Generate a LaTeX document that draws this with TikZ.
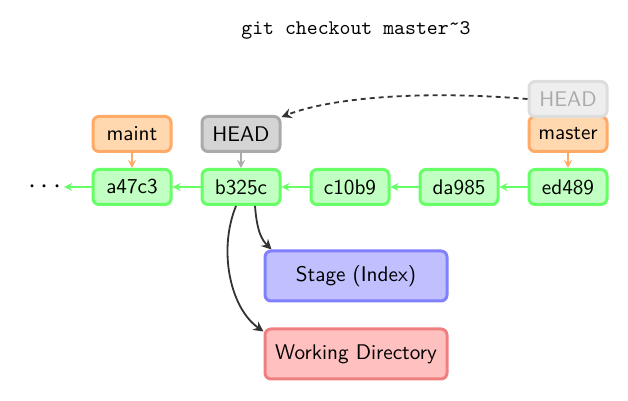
\documentclass[tikz,border=0pt]{standalone}
\usetikzlibrary{arrows.meta}
\definecolor{cgfill}{HTML}{C2FFC2}
\definecolor{cgdraw}{HTML}{66FF66}
\definecolor{cofill}{HTML}{FFD8B0}
\definecolor{codraw}{HTML}{FFAA66}
\definecolor{chfill}{HTML}{D4D4D4}
\definecolor{chdraw}{HTML}{AAAAAA}
\definecolor{cgh}{HTML}{EEEEEE}
\definecolor{cghd}{HTML}{DDDDDD}
\definecolor{cghtext}{HTML}{AAAAAA}
\definecolor{csfill}{HTML}{C0C0FF}
\definecolor{csdraw}{HTML}{8080FF}
\definecolor{cwfill}{HTML}{FFC0C0}
\definecolor{cwdraw}{HTML}{F08080}
\definecolor{cblk}{HTML}{333333}
\tikzset{
  box/.style={rounded corners=3pt, line width=1.5pt, minimum width=39pt, minimum height=17.5pt, inner sep=0pt, font=\sffamily\fontsize{10.6}{12}\selectfont},
  commit/.style={box, fill=cgfill, draw=cgdraw},
  branch/.style={box, fill=cofill, draw=codraw},
  headbox/.style={box, fill=chfill, draw=chdraw},
  ghost/.style={box, fill=cgh, draw=cghd, text=cghtext},
  area/.style={box, minimum width=91pt, minimum height=25pt},
  garrow/.style={draw=cgdraw, line width=0.8pt, -{Stealth[length=4pt,width=4pt]}},
  oarrow/.style={draw=codraw, line width=0.8pt, -{Stealth[length=4pt,width=4pt]}},
  harrow/.style={draw=chdraw, line width=0.8pt, -{Stealth[length=4pt,width=4pt]}},
  karrow/.style={draw=cblk, line width=0.9pt, -{Stealth[length=5pt,width=5pt]}},
}
\begin{document}
\begin{tikzpicture}[x=0.5pt,y=-0.5pt]
\useasboundingbox (0,0) rectangle (628,401);
\node[font=\ttfamily\fontsize{10.4}{12}\selectfont] (title) at (356,30) {git checkout master\raisebox{0.45ex}{\textasciitilde}3};
\node[commit] (a) at (132,187) {a47c3};
\node[commit] (b) at (241,187) {b325c};
\node[commit] (c) at (350,187) {c10b9};
\node[commit] (d) at (459,187) {da985};
\node[commit] (e) at (568,187) {ed489};
\node[inner sep=1pt, font=\fontsize{14}{14}\selectfont] (dots) at (45,187) {$\cdots$};
\node[branch] (maint) at (132,134) {maint};
\node[headbox] (head) at (241,134) {HEAD};
\node[branch] (master) at (568,134) {master};
\node[ghost] (oldhead) at (568,99) {HEAD};
\node[area, fill=csfill, draw=csdraw] (stage) at (356,276) {Stage (Index)};
\node[area, fill=cwfill, draw=cwdraw] (wd) at (356,354) {Working Directory};
\draw[garrow] (e) -- (d);
\draw[garrow] (d) -- (c);
\draw[garrow] (c) -- (b);
\draw[garrow] (b) -- (a);
\draw[garrow] (a) -- (dots);
\draw[oarrow] (maint) -- (a);
\draw[oarrow] (master) -- (e);
\draw[harrow] (head) -- (b);
\draw[cblk, line width=0.9pt, dash pattern=on 2.5pt off 2pt, -{Stealth[length=5pt,width=5pt]}]
  (oldhead.west) .. controls (420,90) and (330,98) .. ([yshift=-1pt]head.north east);
\coordinate (bs1) at ([xshift=7pt]b.south);
\coordinate (bs2) at ([xshift=-2.5pt]b.south);
\draw[karrow] (bs1) .. controls (257,232) and (262,240) .. ([xshift=4pt]stage.north west);
\draw[karrow] (bs2) .. controls (218,250) and (230,308) .. ([yshift=-2pt]wd.north west);
\end{tikzpicture}
\end{document}
